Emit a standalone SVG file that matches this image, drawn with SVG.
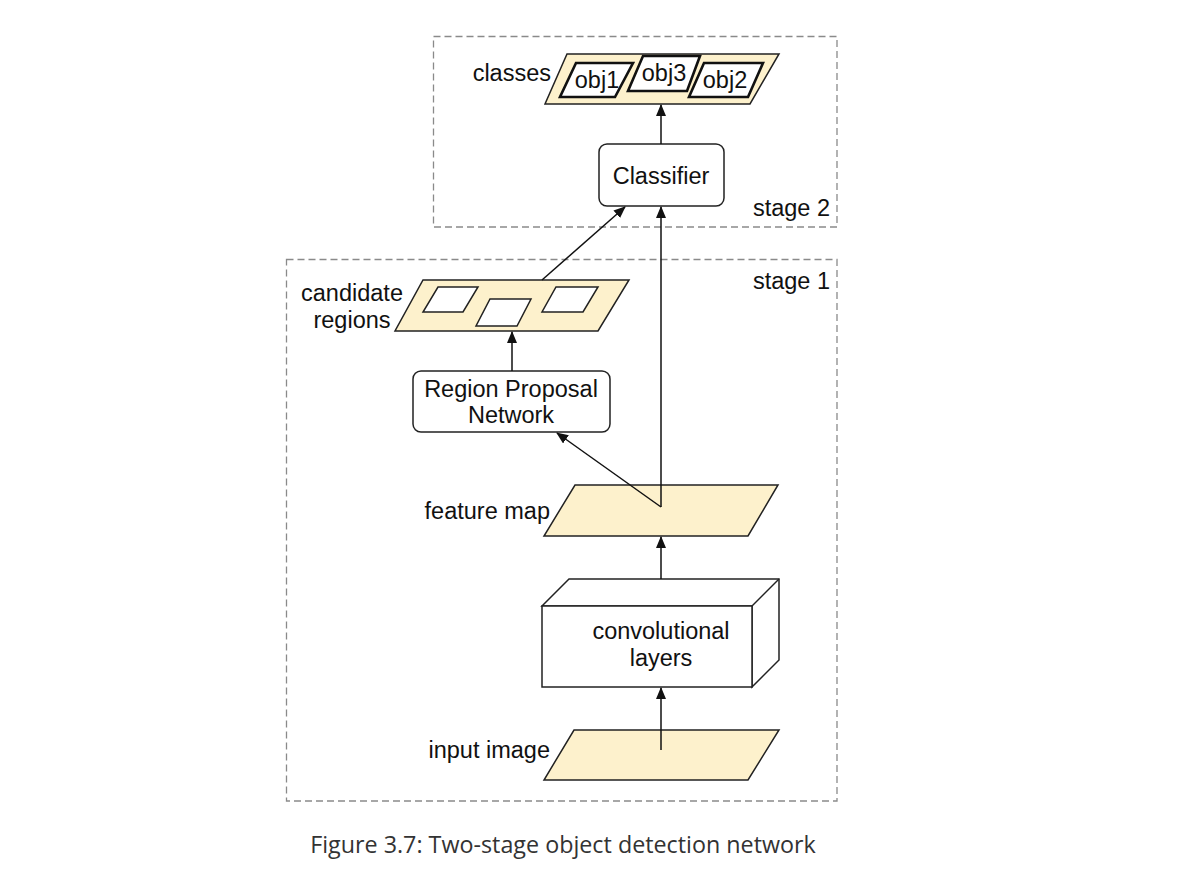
<svg xmlns="http://www.w3.org/2000/svg" width="1195" height="883" viewBox="0 0 1195 883">
<style>
.t{font-family:"Liberation Sans",Arial,sans-serif;font-size:23.5px;fill:#111}
.c{text-anchor:middle}
.e{text-anchor:end}
.stage{fill:none;stroke:#8a8a8a;stroke-width:1.3;stroke-dasharray:7 4}
.plane{fill:#fdf1cc;stroke:#222;stroke-width:1.5;stroke-linejoin:miter}
.hole{fill:#fff;stroke:#222;stroke-width:1.5}
.obj{fill:#fff;stroke:#111;stroke-width:2.6}
.box{fill:#fff;stroke:#222;stroke-width:1.5}
.edge{fill:none;stroke:#111;stroke-width:1.5}
</style>
<defs>
<marker id="ah" markerWidth="12" markerHeight="10" refX="11" refY="5" orient="auto" markerUnits="userSpaceOnUse" viewBox="0 0 12 10">
<path d="M0,0 L12,5 L0,10 Z" fill="#111"/>
</marker>
</defs>
<rect width="1195" height="883" fill="#fff"/>

<g id="stage2">
<rect class="stage" x="433.5" y="36.5" width="403.5" height="190.5"/>
<text class="t e" x="830" y="216">stage 2</text>
</g>
<g id="stage1">
<rect class="stage" x="286.5" y="259.5" width="550.5" height="541.5"/>
<text class="t e" x="830" y="289">stage 1</text>
</g>

<g id="classes">
<polygon class="plane" points="567,54 779,54 750,104 545,104"/>
<polygon class="obj" points="576,63 633,63 615,97 560,97"/>
<polygon class="obj" points="643,56 700,56 687,91 628,91"/>
<polygon class="obj" points="704,63 763,63 748,97 689,97"/>
<text class="t c" x="597" y="88">obj1</text>
<text class="t c" x="664" y="81">obj3</text>
<text class="t c" x="725" y="88">obj2</text>
<text class="t e" x="551" y="81">classes</text>
</g>

<g id="classifier">
<rect class="box" x="599" y="144" width="125" height="62" rx="8"/>
<text class="t c" x="661" y="184">Classifier</text>
</g>

<g id="candidate-regions">
<polygon class="plane" points="423,280 629,280 598,331 395,331"/>
<polygon class="hole" points="438,287 478,287 463,312 423,312"/>
<polygon class="hole" points="490,299 531,299 517,326 476,326"/>
<polygon class="hole" points="556,287 598,287 583,312 542,312"/>
<text class="t c" x="352" y="301">candidate</text>
<text class="t c" x="352" y="328">regions</text>
</g>

<g id="rpn">
<rect class="box" x="413" y="371" width="197" height="61" rx="8"/>
<text class="t c" x="511" y="397">Region Proposal</text>
<text class="t c" x="511" y="423">Network</text>
</g>

<g id="feature-map">
<polygon class="plane" points="575,485 778,485 748,536 544,536"/>
<text class="t e" x="550" y="519">feature map</text>
</g>

<g id="conv">
<polygon class="box" points="542,606 569,579 779,579 779,660 752,687 752,606"/>
<line class="box" x1="752" y1="606" x2="779" y2="579"/>
<rect class="box" x="542" y="606" width="210" height="81"/>
<text class="t c" x="661" y="639">convolutional</text>
<text class="t c" x="661" y="666">layers</text>
</g>

<g id="input-image">
<polygon class="plane" points="574,730 779,730 748,780 544,780"/>
<text class="t e" x="550" y="758">input image</text>
</g>

<g id="connectors">
<line class="edge" x1="661" y1="750" x2="661" y2="688" marker-end="url(#ah)"/>
<line class="edge" x1="661" y1="579" x2="661" y2="537" marker-end="url(#ah)"/>
<line class="edge" x1="661" y1="507" x2="661" y2="207" marker-end="url(#ah)"/>
<line class="edge" x1="661" y1="507" x2="557" y2="433" marker-end="url(#ah)"/>
<line class="edge" x1="512" y1="371" x2="512" y2="332" marker-end="url(#ah)"/>
<line class="edge" x1="542" y1="280" x2="625" y2="207" marker-end="url(#ah)"/>
<line class="edge" x1="661" y1="144" x2="661" y2="105" marker-end="url(#ah)"/>
</g>

<text x="563" y="853" text-anchor="middle" style="font-family:'Open Sans','Noto Sans',sans-serif;font-size:23.3px;fill:#333">Figure 3.7: Two-stage object detection network</text>
</svg>
